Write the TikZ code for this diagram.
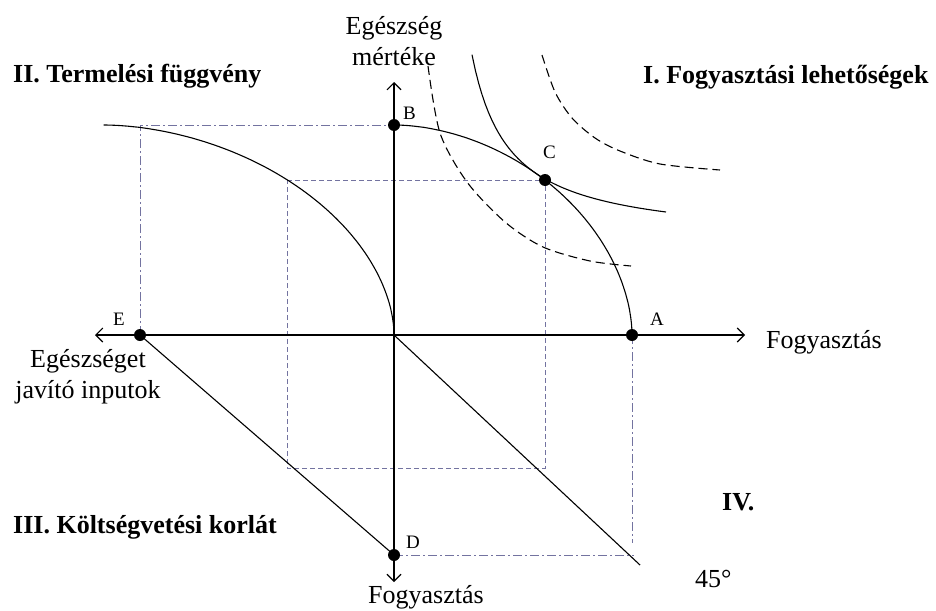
\documentclass[tikz,border=0pt]{standalone}
\usepackage{fontspec}
\setmainfont{Liberation Serif}
\usetikzlibrary{arrows.meta}
\definecolor{guide}{HTML}{7373A0}

\tikzset{
  axis/.style={line width=1.1pt,<->},
  curve/.style={line width=1.1pt},
  dashcurve/.style={line width=1.1pt,dash pattern=on 9pt off 5pt},
  guidedash/.style={guide,line width=0.9pt,dash pattern=on 5pt off 3pt},
  guidedot/.style={guide,line width=0.9pt,dash pattern=on 9pt off 3pt on 2pt off 3pt},
  lbl/.style={inner sep=0pt,font=\fontsize{19}{22}\selectfont},
  txt/.style={inner sep=0pt,font=\fontsize{26}{31}\selectfont},
  head/.style={inner sep=0pt,font=\fontsize{26}{30}\selectfont\bfseries},
}
\newcommand{\pex}{1.081}

\begin{document}
\begin{tikzpicture}[x=1pt,y=-1pt,>={Straight Barb[length=7pt,width=14pt]}]
  \useasboundingbox (0,0) rectangle (936,610);
  % axes
  \coordinate (O) at (394,335);
  \coordinate (xl) at (95,335);
  \coordinate (xr) at (745,335);
  \coordinate (yt) at (394,82);
  \coordinate (yb) at (394,582);
  \coordinate (A) at (632,335);
  \coordinate (B) at (394,125);
  \coordinate (C) at (545,180);
  \coordinate (D) at (394,555);
  \coordinate (E) at (140,335);
  \coordinate (Et) at (140,125);
  \coordinate (Ab) at (632,543);
  \coordinate (Dr) at (634,555);
  \coordinate (L) at (640,565);
  \coordinate (Cl) at (287,180);
  \coordinate (Cb) at (545,468);
  \coordinate (Clb) at (287,468);

  % segedvonalak
  \draw[guidedash] (Cl) -- (C) -- (Cb) -- (Clb) -- cycle;
  \draw[guidedot] (E) -- (Et) -- (B);
  \draw[guidedot] (A) -- (Ab);
  \draw[guidedot] (D) -- (Dr);

  \draw[axis] (xl) -- (xr);
  \draw[axis] (yb) -- (yt);

  % termelesi fuggveny (I. es II. negyed)
  \draw[curve] plot[domain=0.2:89.8,samples=80] ({394+238*pow(cos(\x),\pex)},{335-210*pow(sin(\x),\pex)});
  \draw[curve] plot[domain=0.2:89.8,samples=80] ({103+291*pow(cos(\x),\pex)},{335-210*pow(sin(\x),\pex)});
  % kozomboszsagi gorbek
  \draw[curve] plot[domain=472:666,samples=60] (\x,{242-6930/(\x-435)});
  \draw[dashcurve] plot[smooth] coordinates {(428,66) (440,133) (467,182) (505,222) (543,247) (590,261) (631,266)};
  \draw[dashcurve] plot[smooth] coordinates {(542,55) (555,92) (572,118) (595,138) (620,151) (660,164) (720,170)};
  % koltsegvetesi korlat, 45 fokos egyenes
  \draw[curve] (E) -- (D);
  \draw[curve] (O) -- (L);

  \foreach \p in {A,B,C,D,E} \fill (\p) circle (6pt);

  \node[lbl,anchor=base west] (labA) at (650,325) {A};
  \node[lbl,anchor=base west] (labB) at (403,119) {B};
  \node[lbl,anchor=base west] (labC) at (543,158) {C};
  \node[lbl,anchor=base west] (labD) at (406,548) {D};
  \node[lbl,anchor=base west] (labE) at (113,325) {E};

  \node[txt,align=center,anchor=north] (ylab) at (394,16) {Egészség\\mértéke};
  \node[txt,align=center,anchor=north] (xllab) at (88,349) {Egészséget\\javító inputok};
  \node[txt,anchor=base west] (xrlab) at (766,348) {Fogyasztás};
  \node[txt,anchor=base] (yblab) at (426,603) {Fogyasztás};
  \node[txt,anchor=base west] (deg) at (695,587) {45°};

  \node[head,anchor=base west] (q2) at (13,82) {II. Termelési függvény};
  \node[head,anchor=base west] (q1) at (643,83) {I. Fogyasztási lehetőségek};
  \node[head,anchor=base west] (q3) at (13,533) {III. Költségvetési korlát};
  \node[head,anchor=base west] (q4) at (722,510) {IV.};
\end{tikzpicture}
\end{document}
